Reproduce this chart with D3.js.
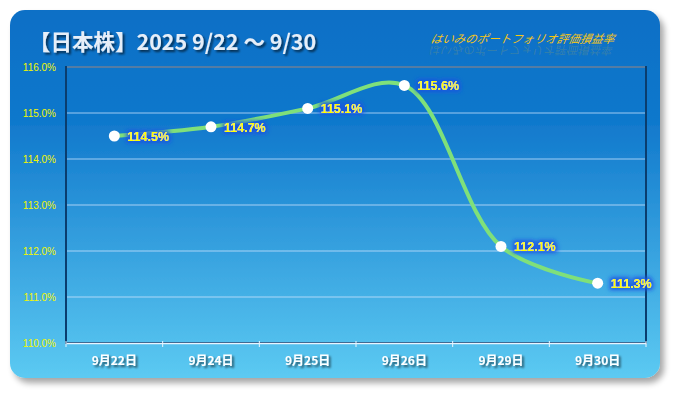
<!DOCTYPE html>
<html><head><meta charset="utf-8">
<script src="https://cdn.jsdelivr.net/npm/d3@7"></script>
<style>
html,body{margin:0;padding:0;background:#fff;}
svg{display:block;}
</style></head>
<body>
<script>
const categories = ["9月22日","9月24日","9月25日","9月26日","9月29日","9月30日"];
const values = [114.5, 114.7, 115.1, 115.6, 112.1, 111.3];
const valueLabels = ["114.5%","114.7%","115.1%","115.6%","112.1%","111.3%"];
const yTicks = [110,111,112,113,114,115,116];
const title = "【日本株】2025 9/22 〜 9/30";
const subtitle = "はいみのポートフォリオ評価損益率";

(function(){
const W = 675, H = 393;
const svg = d3.select("body").append("svg").attr("width", W).attr("height", H);
const defs = svg.append("defs");

const bg = defs.append("linearGradient").attr("id","bg").attr("x1",0).attr("y1",0).attr("x2",0).attr("y2",1);
bg.append("stop").attr("offset","0%").attr("stop-color","#0b6fc6");
bg.append("stop").attr("offset","30%").attr("stop-color","#1078cc");
bg.append("stop").attr("offset","100%").attr("stop-color","#5ccaf2");

const sh = defs.append("filter").attr("id","shadow").attr("x","-10%").attr("y","-10%").attr("width","120%").attr("height","130%");
sh.append("feGaussianBlur").attr("in","SourceAlpha").attr("stdDeviation",3);
sh.append("feOffset").attr("dx",4).attr("dy",5).attr("result","b");
sh.append("feComponentTransfer").append("feFuncA").attr("type","linear").attr("slope",0.35);
const m = sh.append("feMerge"); m.append("feMergeNode"); m.append("feMergeNode").attr("in","SourceGraphic");

const glow = defs.append("filter").attr("id","glow").attr("x","-20%").attr("y","-40%").attr("width","140%").attr("height","180%");
glow.append("feMorphology").attr("in","SourceAlpha").attr("operator","dilate").attr("radius",1.5).attr("result","d");
glow.append("feGaussianBlur").attr("in","d").attr("stdDeviation",2).attr("result","bl");
glow.append("feFlood").attr("flood-color","#1a55e0").attr("flood-opacity",0.95);
glow.append("feComposite").attr("in2","bl").attr("operator","in").attr("result","g");
const gm = glow.append("feMerge"); gm.append("feMergeNode").attr("in","g"); gm.append("feMergeNode").attr("in","SourceGraphic");

const tsh = defs.append("filter").attr("id","tshadow").attr("x","-10%").attr("y","-30%").attr("width","120%").attr("height","160%");
tsh.append("feGaussianBlur").attr("in","SourceAlpha").attr("stdDeviation",1.2);
tsh.append("feOffset").attr("dx",1.5).attr("dy",1.5).attr("result","o");
tsh.append("feComponentTransfer").append("feFuncA").attr("type","linear").attr("slope",0.6);
const tm = tsh.append("feMerge"); tm.append("feMergeNode"); tm.append("feMergeNode").attr("in","SourceGraphic");

// outer panel
svg.append("rect").attr("x",10).attr("y",10).attr("width",650).attr("height",368)
  .attr("rx",15).attr("fill","url(#bg)").attr("filter","url(#shadow)");

const pl = 66, pr = 646, pt = 67, pb = 343;
const x = d3.scaleBand().domain(categories).range([pl, pr]);
const y = d3.scaleLinear().domain([110,116]).range([pb, pt]);

// plot border
svg.append("rect").attr("x",pl).attr("y",pt).attr("width",pr-pl).attr("height",pb-pt)
  .attr("fill","none").attr("stroke","#0a3d6e").attr("stroke-width",2);

// gridlines
svg.append("g").selectAll("line").data(yTicks.filter(t=>t>110)).join("line")
  .attr("x1",pl+1).attr("x2",pr-1).attr("y1",d=>y(d)).attr("y2",d=>y(d))
  .attr("stroke","#cfe6ff").attr("stroke-opacity",0.75).attr("stroke-width",1);

// y axis labels
const yAxis = d3.axisLeft(y).tickValues(yTicks).tickFormat(d=>d.toFixed(1)+"%").tickSize(0).tickPadding(10);
const ya = svg.append("g").attr("transform",`translate(${pl},0)`).call(yAxis);
ya.select(".domain").remove();
ya.selectAll("text").attr("fill","#f2f600").style("font-family","'Liberation Sans',Arial,sans-serif").style("font-size","10px");

// x axis
const xAxis = d3.axisBottom(x).tickSize(0).tickPadding(13);
const xa = svg.append("g").attr("transform",`translate(0,${pb})`).call(xAxis);
xa.select(".domain").attr("stroke","#e8f4ff").attr("stroke-width",1.5);
xa.selectAll("text").attr("fill","#ffffff").attr("font-weight","bold")
  .style("font-family","'Noto Sans CJK JP',sans-serif").style("font-size","12px").attr("filter","url(#tshadow)");
const bounds = categories.map(c=>x(c)).concat([pr]);
xa.append("g").selectAll("line").data(bounds).join("line")
  .attr("x1",d=>d).attr("x2",d=>d).attr("y1",-2).attr("y2",4).attr("stroke","#e8f4ff").attr("stroke-width",1);

const cx = c => x(c) + x.bandwidth()/2;
const pts = categories.map((c,i)=>[cx(c), y(values[i])]);

// line
svg.append("path").attr("d", d3.line().curve(d3.curveCatmullRom.alpha(0.5))(pts))
  .attr("fill","none").attr("stroke","#7fe07a").attr("stroke-width",4).attr("stroke-linecap","round");

// markers
svg.append("g").selectAll("circle").data(pts).join("circle")
  .attr("cx",d=>d[0]).attr("cy",d=>d[1]).attr("r",5.5).attr("fill","#ffffff");

// value labels
svg.append("g").selectAll("text").data(pts).join("text")
  .attr("x",d=>d[0]+13).attr("y",d=>d[1]+5)
  .text((d,i)=>valueLabels[i])
  .attr("fill","#ffff00").attr("font-weight","bold")
  .style("font-family","'Liberation Sans',Arial,sans-serif").style("font-size","12.5px")
  .attr("filter","url(#glow)");

// title
svg.append("text").attr("x",29).attr("y",50).text(title)
  .attr("fill","#e6eef8").attr("font-weight","bold")
  .style("font-family","'Noto Sans CJK JP',sans-serif").style("font-size","21.5px")
  .attr("filter","url(#tshadow)");

// subtitle with reflection
const sub = svg.append("g");
sub.append("text").attr("x",430).attr("y",43).text(subtitle)
  .attr("fill","#f5c518").attr("font-style","italic")
  .style("font-family","'Noto Sans CJK JP',sans-serif").style("font-size","11.5px")
  .attr("transform","translate(430,43) skewX(-12) translate(-430,-43)");
sub.append("text").attr("x",430).attr("y",43).text(subtitle)
  .attr("fill","#f5c518").attr("fill-opacity",0.18)
  .style("font-family","'Noto Sans CJK JP',sans-serif").style("font-size","11.5px")
  .attr("transform","translate(0,89) scale(1,-1) translate(430,44) skewX(12) translate(-430,-44)");
})();
</script>
</body></html>
